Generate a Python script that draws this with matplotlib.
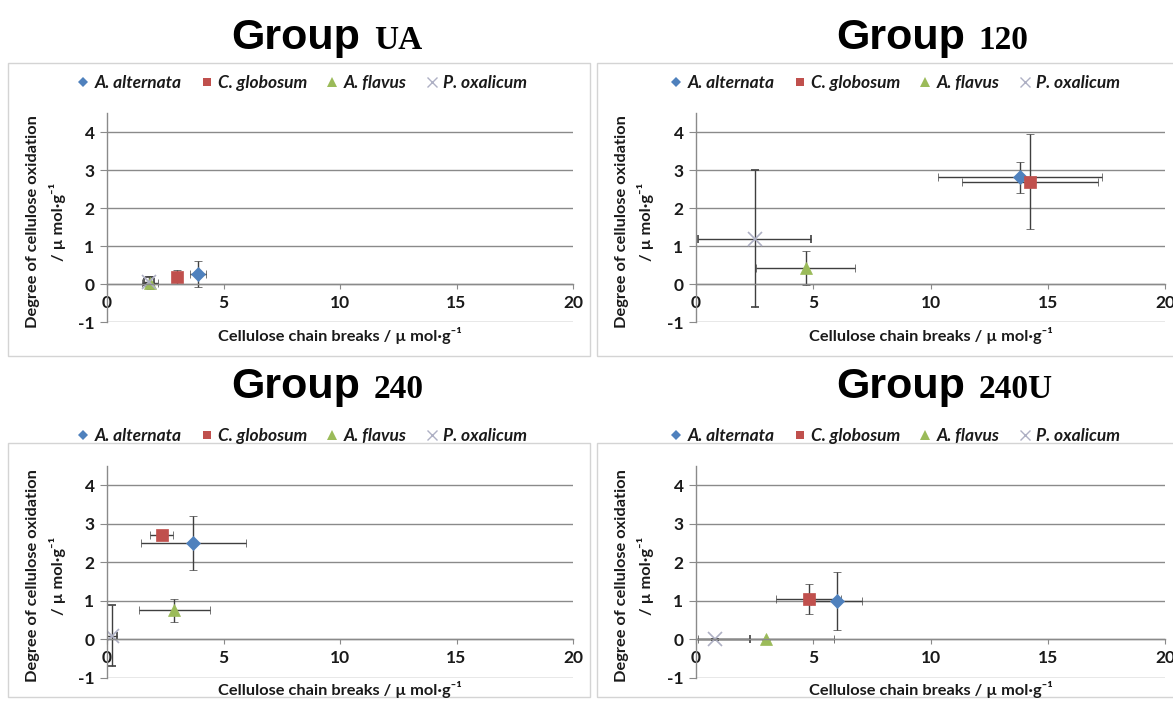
import matplotlib

matplotlib.use("Agg")
import matplotlib.pyplot as plt
from matplotlib.lines import Line2D
from matplotlib.patches import Rectangle

# ── data ──────────────────────────────────────────────────────────
groups = ["UA", "120", "240", "240U"]
species = ["A. alternata", "C. globosum", "A. flavus", "P. oxalicum"]

alt_x = [3.9, 13.8, 3.7, 6.0]
alt_y = [0.27, 2.81, 2.5, 1.0]
alt_xerr = [0.35, 3.5, 2.25, 1.08]
alt_yerr = [0.35, 0.4, 0.7, 0.76]

glo_x = [3.0, 14.25, 2.35, 4.8]
glo_y = [0.2, 2.7, 2.7, 1.06]
glo_xerr = [0.22, 2.9, 0.5, 1.38]
glo_yerr = [0.19, 1.25, 0.08, 0.39]

fla_x = [1.85, 4.67, 2.88, 3.0]
fla_y = [0.05, 0.44, 0.76, 0.0]
fla_xerr = [0.36, 2.1, 1.52, 2.9]
fla_yerr = [0.18, 0.45, 0.3, 0.02]

oxa_x = [1.8, 2.5, 0.2, 0.8]
oxa_y = [0.07, 1.2, 0.1, 0.0]
oxa_xerr = [0.2, 2.4, 0.25, 1.5]
oxa_yerr = [0.12, 1.8, 0.8, 0.02]

x_ticks = [0, 5, 10, 15, 20]
y_ticks = [-1, 0, 1, 2, 3, 4]

# ── styles ────────────────────────────────────────────────────────
series = [
    (alt_x, alt_y, alt_xerr, alt_yerr, "D", "#4F81BD", 7),
    (glo_x, glo_y, glo_xerr, glo_yerr, "s", "#C0504D", 8.5),
    (fla_x, fla_y, fla_xerr, fla_yerr, "^", "#9BBB59", 9),
    (oxa_x, oxa_y, oxa_xerr, oxa_yerr, "x", "#AEB0C4", 10),
]

plt.rcParams["axes.unicode_minus"] = False

W, H = 1173, 707
FAM = ["Lato", "DejaVu Sans"]
TXT = "#1a1a1a"
GRID = "#8a8a8a"

fig = plt.figure(figsize=(W / 100, H / 100), dpi=100)


def fx(px):
    return px / W


def fy(py):
    return 1 - py / H


# panel layout in pixels: axes left/right, axes top/bottom, box, legend centre, title
cols = [dict(ax0=107, ax1=573, box0=8, box1=590, leg=302, xl=340, title=231),
        dict(ax0=696, ax1=1165, box0=597, box1=1185, leg=895, xl=930, title=836)]
rows = [dict(top=113, bot=322.5, btop=63, bbot=356, leg=83, xl=335, base=49),
        dict(top=466, bot=678, btop=443, bbot=697, leg=436, xl=689, base=398)]

renderer = fig.canvas.get_renderer()

for i, name in enumerate(groups):
    c = cols[i % 2]
    r = rows[i // 2]

    fig.add_artist(Rectangle((fx(c["box0"]), fy(r["bbot"])),
                             (c["box1"] - c["box0"]) / W, (r["bbot"] - r["btop"]) / H,
                             transform=fig.transFigure, fill=False,
                             edgecolor="#d4d4d4", linewidth=1.0))

    ax = fig.add_axes([fx(c["ax0"]), fy(r["bot"]),
                       (c["ax1"] - c["ax0"]) / W, (r["bot"] - r["top"]) / H])
    ax.set_xlim(0, 20)
    ax.set_ylim(-1, 4.5)
    ax.set_facecolor("none")
    ax.set_axisbelow(True)

    for sp in ("top", "right"):
        ax.spines[sp].set_visible(False)
    ax.spines["bottom"].set_position(("data", 0))
    for sp in ("left", "bottom"):
        ax.spines[sp].set_color(GRID)
        ax.spines[sp].set_linewidth(1.0)

    ax.set_xticks(x_ticks)
    ax.set_yticks(y_ticks)
    ax.grid(axis="y", color=GRID, linewidth=1.0)
    ax.tick_params(axis="x", direction="out", length=3.5, color=GRID, pad=4,
                   labelsize=12.5, labelcolor=TXT)
    ax.tick_params(axis="y", direction="out", length=5, color=GRID, pad=4,
                   labelsize=12.5, labelcolor=TXT)
    for lab in ax.get_xticklabels() + ax.get_yticklabels():
        lab.set_fontweight("bold")
        lab.set_family(FAM)

    for xs, ys, xe, ye, mk, col, ms in series:
        ax.errorbar(xs[i], ys[i], xerr=xe[i], yerr=ye[i], fmt=mk, color=col,
                    markersize=ms, markeredgewidth=1.2 if mk == "x" else 0.5,
                    markeredgecolor=col, ecolor="#3f3f3f", elinewidth=1.0,
                    capsize=3, capthick=1.0)

    # axis titles
    fig.text(fx((c["ax0"] + c["ax1"]) / 2), fy(r["xl"]),
             "Cellulose chain breaks / \u00b5 mol\u00b7g\u207b\u00b9",
             ha="center", va="center", fontsize=11.8, fontweight="bold",
             family=FAM, color=TXT)
    yc = fy((r["top"] + r["bot"]) / 2 + 4)
    fig.text(fx(c["ax0"] - 74), yc, "Degree of cellulose oxidation",
             rotation=90, ha="center", va="center", fontsize=11.8,
             fontweight="bold", family=FAM, color=TXT)
    fig.text(fx(c["ax0"] - 50), yc, "/ \u00b5 mol\u00b7g\u207b\u00b9",
             rotation=90, ha="center", va="center", fontsize=11.8,
             fontweight="bold", family=FAM, color=TXT)

    # legend
    handles = [Line2D([], [], linestyle="none", marker=mk, color=col,
                      markersize=ms * 0.75, markeredgewidth=1.0 if mk == "x" else 0)
               for _, _, _, _, mk, col, ms in series]
    fig.legend(handles, species, loc="center",
               bbox_to_anchor=(fx(c["leg"]), fy(r["leg"])),
               bbox_transform=fig.transFigure, ncol=4, frameon=False,
               handlelength=0.7, handletextpad=0.3, columnspacing=1.1,
               prop=dict(family=FAM, weight="bold", style="italic", size=12.5),
               labelcolor=TXT)

    # title: "Group" in sans bold, group name in serif bold
    t1 = fig.text(fx(c["title"]), fy(r["base"]), "Group", ha="left", va="baseline",
                  fontsize=31, fontweight="bold", family="Liberation Sans", color="black")
    bb = t1.get_window_extent(renderer=renderer)
    fig.text(fx(bb.x1 + 14), fy(r["base"]), name, ha="left", va="baseline",
             fontsize=24, fontweight="bold", family="Liberation Serif", color="black")

fig.savefig("out.png", dpi=100)
